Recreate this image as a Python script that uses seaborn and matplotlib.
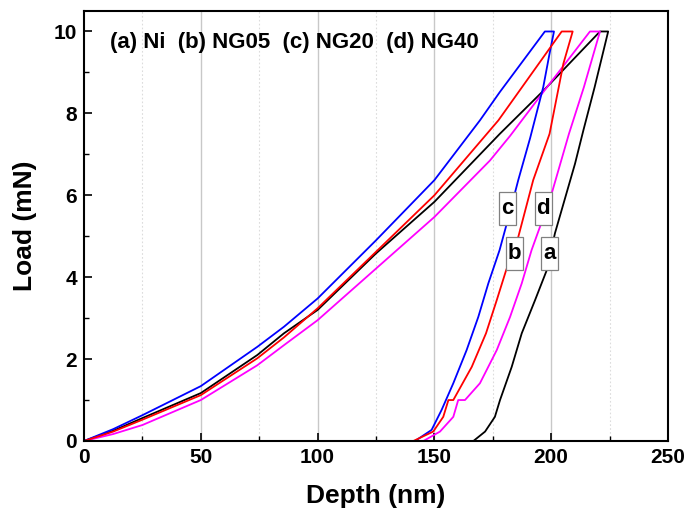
import matplotlib
matplotlib.use("Agg")
import matplotlib.pyplot as plt
import seaborn as sns
import pandas as pd
from matplotlib.ticker import MultipleLocator
from matplotlib.patches import Rectangle

# ---- data (depth nm, load mN) ----
ni_depth = [0, 12.5, 25, 50, 74.2, 85.6, 100, 125, 150, 178, 196.6, 220.9, 224.4,
            218.6, 213.8, 210.2, 201.6, 198.1, 193.1, 187.4, 183.1, 178.1, 175.9, 171.7, 166.7]
ni_load = [0, 0.25, 0.56, 1.17, 2.10, 2.63, 3.20, 4.58, 5.84, 7.50, 8.55, 10.0, 10.0,
           8.64, 7.59, 6.77, 5.07, 4.17, 3.44, 2.63, 1.81, 1.0, 0.59, 0.23, 0]

ng05_depth = [0, 12.5, 25, 50, 74.2, 85.6, 100, 125, 150, 173.8, 182.4, 196.6, 216.6, 220.9,
              214.0, 207.6, 200.2, 195.2, 191.6, 187.4, 182.4, 176.7, 169.5, 163.1, 160.2,
              158.1, 152.4, 145.3]
ng05_load = [0, 0.17, 0.39, 1.0, 1.85, 2.34, 2.95, 4.21, 5.47, 6.85, 7.45, 8.52, 10.0, 10.0,
             8.64, 7.5, 6.04, 5.23, 4.66, 3.85, 3.03, 2.22, 1.41, 1.0, 1.0,
             0.59, 0.23, 0]

ng20_depth = [0, 12.5, 25, 50, 74.2, 85.6, 100, 125, 150, 169.5, 178, 197.3, 201.2,
              199.3, 196.6, 191.0, 185.9, 184.4, 181.0, 177.9, 173.1, 168.8, 163.8, 158.1,
              153.1, 148.8, 141.7]
ng20_load = [0, 0.29, 0.63, 1.34, 2.30, 2.79, 3.48, 4.90, 6.37, 7.83, 8.52, 10.0, 10.0,
             9.46, 8.64, 7.4, 6.37, 6.04, 5.31, 4.66, 3.85, 3.03, 2.22, 1.41,
             0.76, 0.27, 0]

ng40_depth = [0, 12.5, 25, 50, 74.2, 85.6, 100, 125, 150, 177.4, 204.5, 209.2,
              205.2, 199.3, 192.3, 185.9, 180.6, 176.7, 172.1, 166.0, 158.1, 156.0,
              153.8, 149.5, 141.0]
ng40_load = [0, 0.23, 0.52, 1.12, 2.02, 2.53, 3.24, 4.62, 6.0, 7.83, 10.0, 10.0,
             9.21, 7.5, 6.37, 4.98, 4.15, 3.44, 2.63, 1.81, 1.0, 1.0,
             0.59, 0.23, 0]

samples = ["Ni", "NG05", "NG20", "NG40"]
curve_labels = ["a", "b", "c", "d"]
label_x = [199.4, 184.3, 181.1, 196.6]
label_y = [4.57, 4.57, 5.68, 5.68]
colors = {"Ni": "#000000", "NG05": "#FF00FF", "NG20": "#0000FF", "NG40": "#FF0000"}

x_ticks = [0, 50, 100, 150, 200, 250]
y_ticks = [0, 2, 4, 6, 8, 10]
legend_text = "(a) Ni  (b) NG05  (c) NG20  (d) NG40"

frames = []
for name, d, l in [("Ni", ni_depth, ni_load), ("NG05", ng05_depth, ng05_load),
                   ("NG20", ng20_depth, ng20_load), ("NG40", ng40_depth, ng40_load)]:
    frames.append(pd.DataFrame({"depth": d, "load": l, "sample": name,
                                "order": range(len(d))}))
df = pd.concat(frames, ignore_index=True)

sns.set_theme(style="white")
plt.rcParams["font.family"] = ["Liberation Sans", "DejaVu Sans"]
plt.rcParams["font.weight"] = "bold"
plt.rcParams["text.color"] = "black"
plt.rcParams["axes.labelcolor"] = "black"
plt.rcParams["xtick.color"] = "black"
plt.rcParams["ytick.color"] = "black"

fig = plt.figure(figsize=(6.87, 5.24), dpi=100)
ax = fig.add_axes([0.1223, 0.1584, 0.85, 0.8206])

# grid
for xv in [50, 100, 150, 200]:
    ax.axvline(xv, color="#c8c8c8", lw=1.0, zorder=0)
for xv in [25, 75, 125, 175, 225]:
    ax.axvline(xv, color="#dcdcdc", lw=0.8, ls=(0, (1.5, 2)), zorder=0)

sns.lineplot(data=df, x="depth", y="load", hue="sample", palette=colors,
             sort=False, estimator=None, units="sample", legend=False,
             lw=1.3, ax=ax, zorder=2)

ax.set_xlim(0, 250)
ax.set_ylim(0, 10.5)
ax.set_xticks(x_ticks)
ax.set_yticks(y_ticks)
ax.xaxis.set_minor_locator(MultipleLocator(25))
ax.yaxis.set_minor_locator(MultipleLocator(1))
ax.tick_params(axis="both", which="major", direction="in", length=6, width=1.2,
               labelsize=15, top=False, right=False, bottom=True, left=True, pad=5,
               colors="black", labelcolor="black")
ax.tick_params(axis="both", which="minor", direction="in", length=3.5, width=1.0,
               top=False, right=False, bottom=True, left=True, colors="black")
for lab in ax.get_xticklabels() + ax.get_yticklabels():
    lab.set_fontweight("bold")
    lab.set_color("black")

for s in ax.spines.values():
    s.set_color("black")
    s.set_linewidth(1.5)

ax.set_xlabel("Depth (nm)", fontsize=19, fontweight="bold", labelpad=12, color="black")
ax.set_ylabel("Load (mN)", fontsize=19, fontweight="bold", labelpad=12, color="black")

ax.text(11.0, 9.73, legend_text, fontsize=16, fontweight="bold", ha="left",
        va="center", zorder=4, color="black")

for lab, xv, yv in zip(curve_labels, label_x, label_y):
    ax.add_patch(Rectangle((xv - 3.65, yv - 0.40), 7.3, 0.80, facecolor="white",
                           edgecolor="#808080", lw=0.9, zorder=4))
    ax.text(xv, yv, lab, fontsize=16, fontweight="bold", ha="center", va="center",
            zorder=5, color="black")

fig.savefig("out.png", dpi=100)
